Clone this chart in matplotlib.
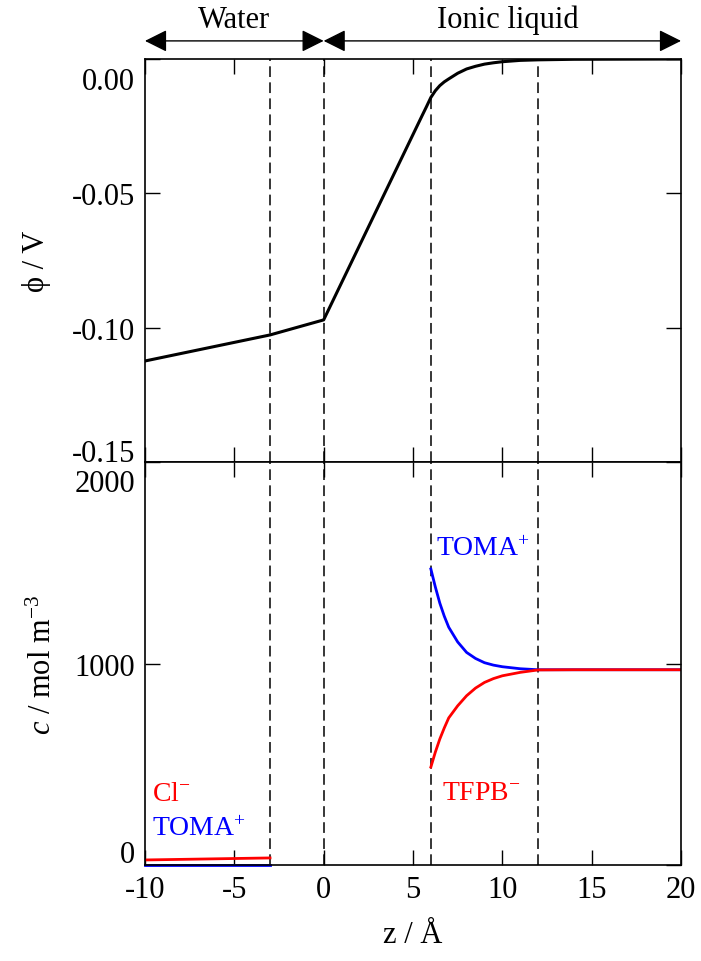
import matplotlib
matplotlib.use("Agg")
import matplotlib.pyplot as plt
from matplotlib.transforms import ScaledTranslation

plt.rcParams["font.family"] = ["Liberation Serif", "DejaVu Serif"]
plt.rcParams["mathtext.fontset"] = "custom"
plt.rcParams["mathtext.rm"] = "Liberation Serif"
plt.rcParams["mathtext.it"] = "Liberation Serif:italic"
plt.rcParams["axes.unicode_minus"] = False

# potential profile
z_phi = [-10, -3, 0, 5.5, 5.75, 6, 6.25, 6.5, 6.75, 7, 7.5, 8, 8.5, 9, 9.5,
         10, 11, 12, 14, 20]
phi = [-0.1124, -0.1027, -0.0971, -0.0212, -0.0178, -0.0143, -0.0118, -0.0099,
       -0.0085, -0.0074, -0.0053, -0.0037, -0.0027, -0.0019, -0.0014,
       -0.0010, -0.0005, -0.0003, -0.0001, 0.0]

# concentrations, water side
z_water = [-10, -3]
cl_water = [25, 35]
toma_water = [0, 0]

# concentrations, ionic liquid side
z_il = [6, 6.25, 6.5, 6.75, 7, 7.5, 8, 8.5, 9, 9.5, 10, 11, 12, 14, 20]
toma_il = [1469, 1380, 1300, 1235, 1180, 1107, 1055, 1025, 1004, 992, 984,
           974, 969, 969, 969]
tfpb_il = [486, 560, 625, 680, 730, 790, 840, 878, 906, 925, 939, 956, 968,
           969, 969]

boundaries = [-3, 0, 6, 12]
x_ticks = [-10, -5, 0, 5, 10, 15, 20]

fig = plt.figure(figsize=(7.01, 9.62), dpi=100)
ax1 = fig.add_axes([0.2068, 0.5187, 0.7647, 0.4189])
ax2 = fig.add_axes([0.2068, 0.0998, 0.7647, 0.4189], sharex=ax1)

fs = 22
for ax in (ax1, ax2):
    for sp in ax.spines.values():
        sp.set_linewidth(1.2)
    ax.tick_params(direction="in", length=11, width=1.0, top=True, right=True,
                   labelsize=fs, pad=7)
    for b in boundaries:
        ax.axvline(b, color="black", lw=1.1, ls=(0, (7, 3.5)))

ax1.plot(z_phi, phi, color="black", lw=2.2)
ax1.set_ylim(-0.15, 0.0)
ax1.set_yticks([-0.15, -0.10, -0.05, 0.00])
ax1.set_yticklabels(["-0.15", "-0.10", "-0.05", "0.00"])
ax1.set_ylabel("ϕ / V", fontsize=fs, labelpad=15)
ax1.tick_params(labelbottom=False)

ax2.plot(z_water, toma_water, color="blue", lw=2.0, clip_on=False)
ax2.plot(z_water, cl_water, color="red", lw=2.0)
ax2.plot(z_il, toma_il, color="blue", lw=2.0)
ax2.plot(z_il, tfpb_il, color="red", lw=2.0)
ax2.set_ylim(0, 2000)
ax2.set_yticks([0, 1000, 2000])
ax2.set_xlim(-10, 20)
ax2.set_xticks(x_ticks)
ax2.set_xticklabels([str(t) for t in x_ticks])
ax2.set_xlabel("z / Å", fontsize=fs, labelpad=12)
ax2.set_ylabel("$c$ / mol m$^{-3}$", fontsize=fs, labelpad=12)

ax2.text(6.3, 1570, "TOMA$^{+}$", color="blue", fontsize=20, va="center")
ax2.text(6.6, 360, "TFPB$^{-}$", color="red", fontsize=20, va="center")
ax2.text(-9.6, 355, "Cl$^{-}$", color="red", fontsize=20, va="center")
ax2.text(-9.6, 180, "TOMA$^{+}$", color="blue", fontsize=20, va="center")

# nudge edge tick labels inward
def nudge(lbl, dy):
    lbl.set_transform(lbl.get_transform() + ScaledTranslation(0, dy / 72, fig.dpi_scale_trans))

fig.canvas.draw()
l1 = ax1.get_yticklabels()
nudge(l1[0], 9)
nudge(l1[-1], -14)
l2 = ax2.get_yticklabels()
nudge(l2[0], 10)
nudge(l2[-1], -13)

# region arrows
arrow = dict(arrowstyle="<|-|>", color="black", lw=1.0, mutation_scale=34,
             shrinkA=0, shrinkB=0)
ax1.annotate("", xy=(-10, 1.045), xytext=(0, 1.045),
             xycoords=("data", "axes fraction"), arrowprops=arrow, annotation_clip=False)
ax1.annotate("", xy=(0, 1.045), xytext=(20, 1.045),
             xycoords=("data", "axes fraction"), arrowprops=arrow, annotation_clip=False)
ax1.text(-5, 1.098, "Water", fontsize=fs, ha="center", va="center",
         transform=ax1.get_xaxis_transform())
ax1.text(10.3, 1.098, "Ionic liquid", fontsize=fs, ha="center", va="center",
         transform=ax1.get_xaxis_transform())

fig.savefig("out.png", dpi=100)
